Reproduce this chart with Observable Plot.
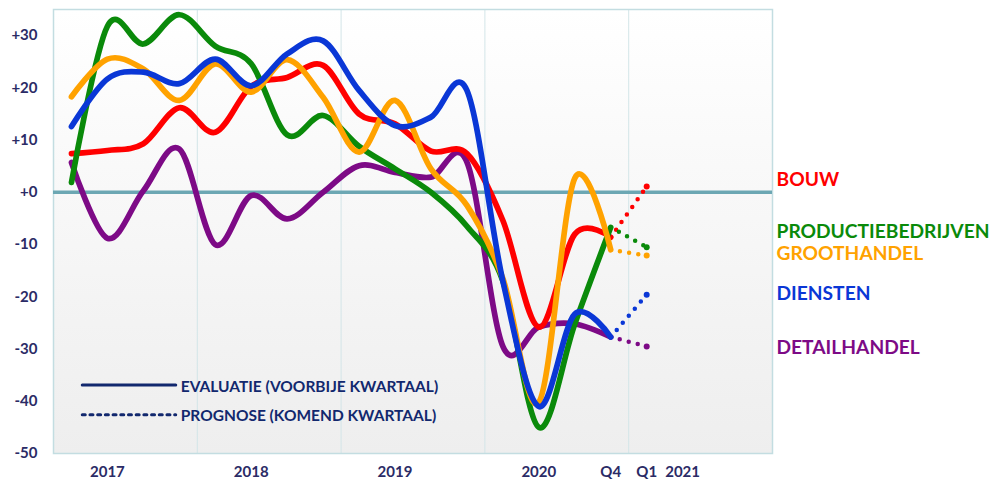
<!DOCTYPE html>
<html>
<head>
<meta charset="utf-8">
<script src="https://cdn.jsdelivr.net/npm/d3@7"></script>
<script src="https://cdn.jsdelivr.net/npm/@observablehq/plot@0.6"></script>
<style>
  html, body { margin: 0; padding: 0; background: #ffffff; }
  #chart svg { display: block; }
</style>
</head>
<body>
<div id="chart"></div>
<script>
// ---------- DATA ----------
const quarters = ["2017Q1","2017Q2","2017Q3","2017Q4","2018Q1","2018Q2","2018Q3","2018Q4",
                  "2019Q1","2019Q2","2019Q3","2019Q4","2020Q1","2020Q2","2020Q3","2020Q4"];
const forecastQuarter = "2021Q1";

const seriesNames  = ["BOUW", "PRODUCTIEBEDRIJVEN", "GROOTHANDEL", "DIENSTEN", "DETAILHANDEL"];
const bouw         = [7.4, 8.0, 9.3, 16.2, 11.5, 20.3, 22.0, 24.3, 15.0, 13.1, 7.9, 7.4, -5.4, -25.8, -8.0, -8.6];
const productie    = [1.9, 31.8, 28.4, 34.0, 28.0, 24.6, 11.0, 14.7, 8.8, 4.5, 0.0, -6.5, -17.0, -45.0, -25.2, -6.7];
const groothandel  = [18.3, 25.5, 23.6, 17.6, 24.6, 19.2, 25.4, 18.2, 7.7, 17.6, 4.5, -2.5, -16.5, -40.2, 2.7, -11.0];
const diensten     = [12.6, 21.7, 23.0, 20.8, 25.5, 20.4, 26.5, 29.0, 19.5, 12.8, 14.4, 19.5, -17.0, -41.0, -23.3, -27.7];
const detailhandel = [5.7, -8.8, 0.3, 8.3, -10.0, -0.6, -5.1, 0.0, 5.1, 3.8, 2.9, 5.8, -29.5, -25.8, -25.2, -27.7];
const forecast     = [1.1, -10.5, -12.1, -19.6, -29.5]; // prognose 2021 Q1, in seriesNames order

const xTickLabels = ["2017", "2018", "2019", "2020", "Q4", "Q1", "2021"];
const xTickAt     = ["2017Q2", "2018Q2", "2019Q2", "2020Q2", "2020Q4", "2021Q1", "2021Q2"];
const yTicks      = [-50, -40, -30, -20, -10, 0, 10, 20, 30];
const yearBounds  = [2018, 2019, 2020, 2021];
const legendLabels = ["EVALUATIE (VOORBIJE KWARTAAL)", "PROGNOSE (KOMEND KWARTAAL)"];

// ---------- STYLE / LAYOUT ----------
const colors = ["#ff0000", "#0a8a0a", "#ffa200", "#0a37d6", "#7d0a86"];
const drawOrder = [4, 0, 1, 2, 3];
const labelOffset = [1.2, 3.0, 0.4, 0.2, -0.2];
const textColor = "#2b2b66";
const legendColor = "#12286e";
const font = "Lato, 'Open Sans', sans-serif";

function qx(q) { const y = +q.slice(0, 4), n = +q.slice(5); return y + (n - 0.5) / 4; }

const valuesBySeries = [bouw, productie, groothandel, diensten, detailhandel];
const solid = valuesBySeries.map((vals, i) => vals.map((v, k) => ({series: seriesNames[i], x: qx(quarters[k]), y: v})));
const dotted = valuesBySeries.map((vals, i) => [
  {series: seriesNames[i], x: qx(quarters[quarters.length - 1]), y: vals[vals.length - 1]},
  {series: seriesNames[i], x: qx(forecastQuarter), y: forecast[i]}
]);
const rightLabels = seriesNames.map((s, i) => ({label: s, y: forecast[i] + labelOffset[i], color: colors[i]}));
const xLabels = xTickLabels.map((t, i) => ({label: t, x: qx(xTickAt[i])}));

// legend placement (data units inside the plot)
const legendX0 = 2017.2, legendX1 = 2017.85, legendTextX = 2017.885;
const legendRows = [
  {label: legendLabels[0], y: -36.9, ty: -37.2, dash: null},
  {label: legendLabels[1], y: -42.6, ty: -42.8, dash: "3 4.7"}
];

const marks = [
  Plot.frame({fill: "url(#bgGrad)", stroke: "none"}),
  Plot.ruleX(yearBounds, {stroke: "#d3e5e8", strokeWidth: 1}),
  Plot.frame({stroke: "#c3dde1", strokeWidth: 1.5}),
  Plot.ruleY([0], {stroke: "#6ca7b3", strokeWidth: 3.5}),
];

// legend
for (const r of legendRows) {
  marks.push(Plot.line([{x: legendX0, y: r.y}, {x: legendX1, y: r.y}], {
    x: "x", y: "y", stroke: legendColor, strokeWidth: 3,
    strokeDasharray: r.dash || undefined
  }));
}
marks.push(Plot.text(legendRows, {
  x: () => legendTextX, y: "ty", text: "label", textAnchor: "start",
  fill: legendColor, fontSize: 15.5, fontWeight: "bold", fontFamily: font
}));

for (const i of drawOrder) {
  marks.push(Plot.line(dotted[i], {
    x: "x", y: "y", stroke: colors[i], strokeWidth: 4.5,
    strokeDasharray: "0 9.3", strokeLinecap: "round"
  }));
  marks.push(Plot.dot([dotted[i][1]], {x: "x", y: "y", r: 3, fill: colors[i]}));
}
for (const i of drawOrder) {
  marks.push(Plot.line(solid[i], {
    x: "x", y: "y", stroke: colors[i], strokeWidth: 5.7, curve: "cardinal",
    strokeLinejoin: "round", strokeLinecap: "round"
  }));
}

// x labels (below the frame)
marks.push(Plot.text(xLabels, {
  x: "x", frameAnchor: "bottom", dy: 23, text: "label",
  fill: textColor, fontSize: 15, fontWeight: "bold", fontFamily: font
}));

// series labels on the right
marks.push(Plot.text(rightLabels, {
  x: () => 2022, y: "y", dx: 4, text: "label", textAnchor: "start",
  fill: "color", fontSize: 19.2, fontWeight: "bold", fontFamily: font
}));

const chart = Plot.plot({
  width: 995,
  height: 483,
  marginLeft: 53,
  marginRight: 223,
  marginTop: 9,
  marginBottom: 30,
  style: {fontFamily: font, fontSize: "15px", fontWeight: "bold", color: textColor, background: "#ffffff", overflow: "visible"},
  x: {domain: [2017, 2022], axis: null},
  y: {
    domain: [-50, 35],
    ticks: yTicks,
    tickFormat: d => (d >= 0 ? "+" + d : "-" + Math.abs(d)),
    tickSize: 0,
    tickPadding: 16,
    label: null
  },
  marks
});

// background gradient definition
const ns = "http://www.w3.org/2000/svg";
const defs = document.createElementNS(ns, "defs");
const grad = document.createElementNS(ns, "linearGradient");
grad.setAttribute("id", "bgGrad");
grad.setAttribute("x1", "0"); grad.setAttribute("y1", "0");
grad.setAttribute("x2", "0"); grad.setAttribute("y2", "1");
[["0", "#ffffff"], ["1", "#eeeeee"]].forEach(([o, c]) => {
  const s = document.createElementNS(ns, "stop");
  s.setAttribute("offset", o); s.setAttribute("stop-color", c);
  grad.appendChild(s);
});
defs.appendChild(grad);
chart.insertBefore(defs, chart.firstChild);

document.getElementById("chart").appendChild(chart);
</script>
</body>
</html>
